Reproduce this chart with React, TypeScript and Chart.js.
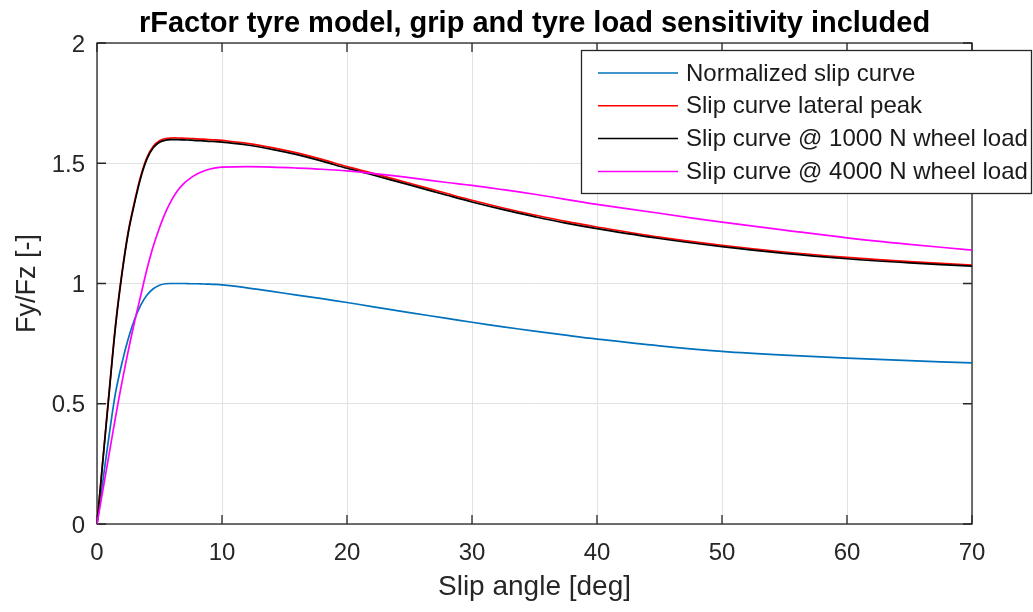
import React, { useEffect, useRef } from "react";
import { Chart, registerables } from "chart.js";

Chart.register(...registerables);

// ---------- data ----------
const slipAngle = [0, 0.5, 1, 1.5, 2, 2.5, 3, 3.5, 4, 4.5, 5, 5.5, 6, 6.5, 7, 7.5, 8, 8.5, 9, 9.5, 10, 12, 14, 16, 18, 20, 22, 25, 28, 30, 32.5, 35, 37.5, 40, 45, 50, 55, 60, 65, 70];

const normalizedCurve = [0, 0.19, 0.38, 0.55, 0.67, 0.77, 0.85, 0.91, 0.952, 0.978, 0.993, 0.999, 1.0, 1.0, 1.0, 0.999, 0.999, 0.998, 0.997, 0.996, 0.994, 0.982, 0.967, 0.952, 0.937, 0.921, 0.904, 0.879, 0.855, 0.839, 0.82, 0.802, 0.785, 0.769, 0.741, 0.718, 0.702, 0.69, 0.679, 0.67];

const lateralPeakCurve = [0, 0.285, 0.567, 0.837, 1.047, 1.217, 1.34, 1.447, 1.525, 1.571, 1.594, 1.603, 1.605, 1.605, 1.604, 1.603, 1.601, 1.6, 1.598, 1.597, 1.595, 1.583, 1.565, 1.543, 1.516, 1.486, 1.459, 1.417, 1.374, 1.346, 1.314, 1.285, 1.258, 1.235, 1.193, 1.159, 1.131, 1.109, 1.091, 1.077];

const load1000Curve = [0, 0.28, 0.56, 0.83, 1.04, 1.21, 1.333, 1.44, 1.518, 1.564, 1.587, 1.596, 1.598, 1.598, 1.597, 1.596, 1.594, 1.593, 1.591, 1.59, 1.588, 1.576, 1.558, 1.536, 1.509, 1.479, 1.452, 1.41, 1.367, 1.339, 1.307, 1.278, 1.251, 1.228, 1.187, 1.153, 1.125, 1.103, 1.086, 1.072];

const load4000Curve = [0, 0.15, 0.3, 0.45, 0.59, 0.72, 0.84, 0.95, 1.06, 1.155, 1.232, 1.298, 1.35, 1.39, 1.418, 1.439, 1.455, 1.467, 1.475, 1.481, 1.484, 1.486, 1.484, 1.48, 1.475, 1.468, 1.458, 1.44, 1.42, 1.408, 1.39, 1.371, 1.35, 1.329, 1.292, 1.255, 1.222, 1.19, 1.163, 1.139];

const seriesLabels = [
  "Normalized slip curve",
  "Slip curve lateral peak",
  "Slip curve @ 1000 N wheel load",
  "Slip curve @ 4000 N wheel load",
];
const seriesColors = ["#0072BD", "#FF0000", "#000000", "#FF00FF"];

const xTickValues = [0, 10, 20, 30, 40, 50, 60, 70];
const yTickValues = [0, 0.5, 1, 1.5, 2];

const titleText = "rFactor tyre model, grip and tyre load sensitivity included";
const xAxisLabel = "Slip angle [deg]";
const yAxisLabel = "Fy/Fz [-]";

const FONT = "'Liberation Sans', Arial, Helvetica, sans-serif";
const AXIS_COLOR = "#262626";
const GRID_COLOR = "#e2e2e2";

const matlabPlugin = {
  id: "matlabAxes",
  beforeDatasetsDraw(chart: any) {
    const { ctx, chartArea, scales } = chart;
    const { left, right, top, bottom } = chartArea;
    const x = scales.x;
    const y = scales.y;
    ctx.save();
    ctx.strokeStyle = AXIS_COLOR;
    ctx.lineWidth = 1.3;
    ctx.strokeRect(left, top, right - left, bottom - top);
    ctx.beginPath();
    const tl = 9;
    xTickValues.forEach((v) => {
      const px = x.getPixelForValue(v);
      ctx.moveTo(px, bottom);
      ctx.lineTo(px, bottom - tl);
      ctx.moveTo(px, top);
      ctx.lineTo(px, top + tl);
    });
    yTickValues.forEach((v) => {
      const py = y.getPixelForValue(v);
      ctx.moveTo(left, py);
      ctx.lineTo(left + tl, py);
      ctx.moveTo(right, py);
      ctx.lineTo(right - tl, py);
    });
    ctx.stroke();
    ctx.restore();
  },
  afterDraw(chart: any) {
    const { ctx, chartArea } = chart;
    ctx.save();
    // title
    ctx.fillStyle = "#000000";
    ctx.font = `bold 29px ${FONT}`;
    ctx.textAlign = "center";
    ctx.textBaseline = "alphabetic";
    ctx.fillText(titleText, (chartArea.left + chartArea.right) / 2, 32);

    // legend
    const boxL = 581;
    const boxT = 50;
    const boxR = 1032;
    const boxB = 194;
    ctx.fillStyle = "#ffffff";
    ctx.fillRect(boxL, boxT, boxR - boxL, boxB - boxT);
    ctx.strokeStyle = AXIS_COLOR;
    ctx.lineWidth = 1.3;
    ctx.strokeRect(boxL + 0.5, boxT + 0.5, boxR - boxL - 1, boxB - boxT - 1);
    ctx.font = `24px ${FONT}`;
    ctx.textAlign = "left";
    ctx.textBaseline = "middle";
    chart.data.datasets.forEach((ds: any, i: number) => {
      const cy = 73 + i * 32.8;
      ctx.strokeStyle = ds.borderColor;
      ctx.lineWidth = 1.5;
      ctx.beginPath();
      ctx.moveTo(598, cy);
      ctx.lineTo(678, cy);
      ctx.stroke();
      ctx.fillStyle = "#1a1a1a";
      ctx.fillText(ds.label, 686, cy + 1);
    });
    ctx.restore();
  },
};

export default function App() {
  const canvasRef = useRef<HTMLCanvasElement | null>(null);

  useEffect(() => {
    document.body.style.margin = "0";
    const canvas = canvasRef.current;
    if (!canvas) return;
    const seriesValues = [normalizedCurve, lateralPeakCurve, load1000Curve, load4000Curve];
    const datasets = seriesValues.map((vals, i) => ({
      label: seriesLabels[i],
      data: slipAngle.map((a, k) => ({ x: a, y: vals[k] })),
      borderColor: seriesColors[i],
      backgroundColor: seriesColors[i],
      borderWidth: 1.7,
      pointRadius: 0,
      fill: false,
      tension: 0.35,
      order: seriesValues.length - i,
    }));

    const chart = new Chart(canvas, {
      type: "line",
      data: { datasets },
      options: {
        animation: false,
        responsive: false,
        devicePixelRatio: 1,
        layout: { padding: { top: 43, right: 61, left: 0, bottom: 0 } },
        plugins: {
          legend: { display: false },
          title: { display: false },
          tooltip: { enabled: false },
        },
        scales: {
          x: {
            type: "linear",
            min: 0,
            max: 70,
            afterFit: (s: any) => {
              s.height = 88;
            },
            afterBuildTicks: (s: any) => {
              s.ticks = xTickValues.map((v) => ({ value: v }));
            },
            ticks: {
              font: { family: FONT, size: 24 },
              color: AXIS_COLOR,
              padding: 15,
              maxRotation: 0,
              autoSkip: false,
            },
            grid: { color: GRID_COLOR, lineWidth: 1, drawTicks: false },
            border: { display: false },
            title: {
              display: true,
              text: xAxisLabel,
              font: { family: FONT, size: 28 },
              color: AXIS_COLOR,
              padding: { top: 0, bottom: 8 },
            },
          },
          y: {
            type: "linear",
            min: 0,
            max: 2,
            afterFit: (s: any) => {
              s.width = 97;
            },
            afterBuildTicks: (s: any) => {
              s.ticks = yTickValues.map((v) => ({ value: v }));
            },
            ticks: {
              font: { family: FONT, size: 24 },
              color: AXIS_COLOR,
              padding: 12,
              labelOffset: 2,
              autoSkip: false,
              callback: (v: any) => String(v),
            },
            grid: { color: GRID_COLOR, lineWidth: 1, drawTicks: false },
            border: { display: false },
            title: {
              display: true,
              text: yAxisLabel,
              font: { family: FONT, size: 27 },
              color: AXIS_COLOR,
              padding: { top: 11, bottom: 0 },
            },
          },
        },
      },
      plugins: [matlabPlugin],
    });
    return () => chart.destroy();
  }, []);

  return (
    <div style={{ position: "absolute", left: 0, top: 0, width: 1033, height: 612, background: "#ffffff" }}>
      <canvas ref={canvasRef} width={1033} height={612} style={{ width: 1033, height: 612, display: "block" }} />
    </div>
  );
}
